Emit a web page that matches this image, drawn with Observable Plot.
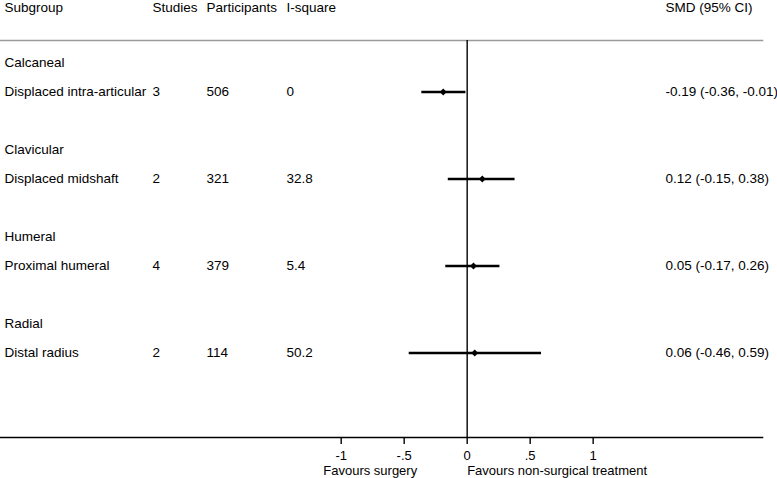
<!DOCTYPE html>
<html><head><meta charset="utf-8">
<script src="https://cdn.jsdelivr.net/npm/d3@7"></script>
<script src="https://cdn.jsdelivr.net/npm/@observablehq/plot@0.6"></script>
<style>body{margin:0;background:#fff;}</style>
</head><body><div id="chart"></div>
<script>
// ---- data ----
const groups = ["Calcaneal", "Clavicular", "Humeral", "Radial"];
const subgroups = ["Displaced intra-articular", "Displaced midshaft", "Proximal humeral", "Distal radius"];
const studies = [3, 2, 4, 2];
const participants = [506, 321, 379, 114];
const isquare = ["0", "32.8", "5.4", "50.2"];
const smd = [-0.19, 0.12, 0.05, 0.06];
const lower = [-0.36, -0.15, -0.17, -0.46];
const upper = [-0.01, 0.38, 0.26, 0.59];
const xTicks = [-1, -0.5, 0, 0.5, 1];
const headers = ["Subgroup", "Studies", "Participants", "I-square", "SMD (95% CI)"];
const favourLeft = "Favours surgery";
const favourRight = "Favours non-surgical treatment";

// ---- tables built from the arrays ----
const groupRows = groups.map((g, i) => ({label: g, row: 3 * i + 1}));
const studyRows = subgroups.map((s, i) => ({
  label: s, row: 3 * i + 2,
  studies: studies[i], participants: participants[i], isq: isquare[i],
  smd: smd[i], lo: lower[i], hi: upper[i],
  ci: `${smd[i].toFixed(2)} (${lower[i].toFixed(2)}, ${upper[i].toFixed(2)})`
}));

const colDx = [4, 152, 206, 286, 665];
const colText = [d => d.label, d => String(d.studies), d => String(d.participants), d => d.isq, d => d.ci];

const marks = [];
// header separator and axis line
marks.push(Plot.frame({anchor: "top", stroke: "#9a9a9a", strokeWidth: 1.6}));
marks.push(Plot.frame({anchor: "bottom", stroke: "black", strokeWidth: 1.6}));
// headers
headers.forEach((h, i) => {
  marks.push(Plot.text([h], {text: d => d, frameAnchor: "top-left", dx: colDx[i], dy: -33, textAnchor: "start", lineAnchor: "middle", fill: "black"}));
});
// group labels
marks.push(Plot.text(groupRows, {y: "row", text: "label", frameAnchor: "left", dx: colDx[0], textAnchor: "start", lineAnchor: "middle", fill: "black"}));
// study columns
colText.forEach((f, k) => {
  marks.push(Plot.text(studyRows, {y: "row", text: f, frameAnchor: "left", dx: colDx[k], textAnchor: "start", lineAnchor: "middle", fill: "black"}));
});
// null line
marks.push(Plot.ruleX([0], {stroke: "black", strokeWidth: 1.4}));
// CIs and points
marks.push(Plot.ruleY(studyRows, {y: "row", x1: "lo", x2: "hi", stroke: "black", strokeWidth: 2.6}));
marks.push(Plot.dot(studyRows, {x: "smd", y: "row", symbol: "diamond2", r: 3.1, fill: "black", stroke: "none"}));
// x axis
marks.push(Plot.axisX(xTicks, {anchor: "bottom", tickSize: 7, tickPadding: 6, strokeWidth: 1.4,
  tickFormat: d => String(d).replace("0.", "."), fontSize: 13, fill: "black", label: null}));
// favour labels
marks.push(Plot.text([favourLeft], {x: () => 0, text: d => d, frameAnchor: "bottom", dy: 33, dx: -50, textAnchor: "end", lineAnchor: "middle", fontSize: 13, fill: "black"}));
marks.push(Plot.text([favourRight], {x: () => 0, text: d => d, frameAnchor: "bottom", dy: 33, dx: 0, textAnchor: "start", lineAnchor: "middle", fontSize: 13, fill: "black"}));

const chart = Plot.plot({
  width: 777,
  height: 478,
  marginLeft: 0,
  marginRight: 15,
  marginTop: 40,
  marginBottom: 41,
  style: {background: "white", fontFamily: "'Liberation Sans', Arial, sans-serif", fontSize: "13.5px", color: "black"},
  x: {domain: [-3.704, 2.344]},
  y: {domain: [0.224, 13.914], reverse: true, axis: null},
  marks
});
document.getElementById("chart").appendChild(chart);
</script>
</body></html>
